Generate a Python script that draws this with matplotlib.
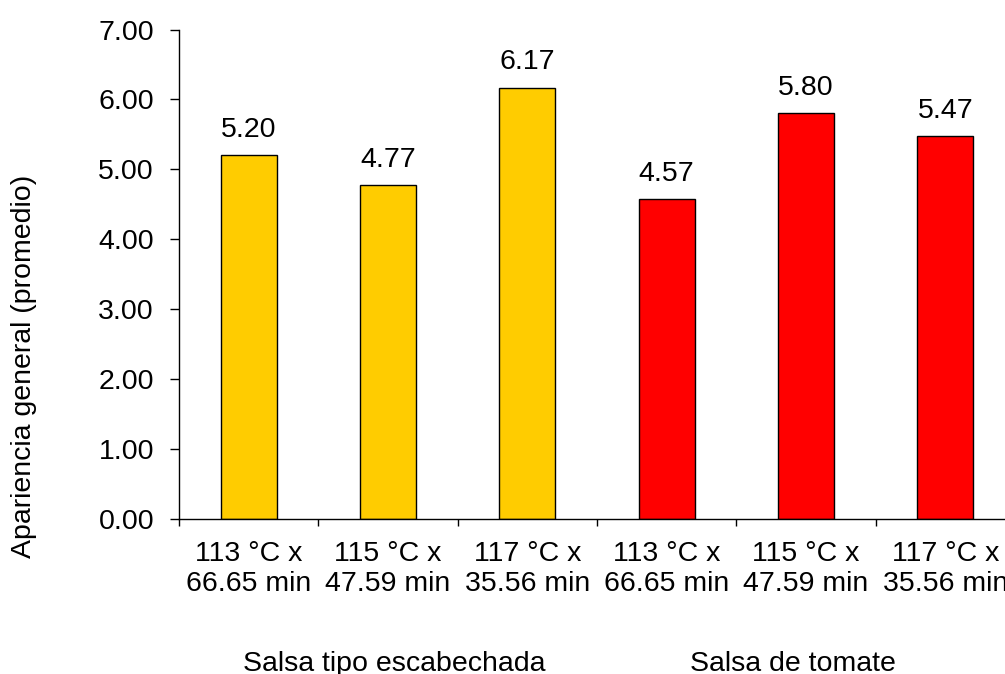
import matplotlib
matplotlib.use("Agg")
import matplotlib.pyplot as plt

plt.rcParams['font.family'] = ['Liberation Sans', 'DejaVu Sans']

# condiciones de esterilizacion y puntaje promedio de apariencia
categorias = ["113 °C x\n66.65 min", "115 °C x\n47.59 min", "117 °C x\n35.56 min",
              "113 °C x\n66.65 min", "115 °C x\n47.59 min", "117 °C x\n35.56 min"]
apariencia = [5.20, 4.77, 6.17, 4.57, 5.80, 5.47]
colores = ["#FFCC00", "#FFCC00", "#FFCC00", "#FF0000", "#FF0000", "#FF0000"]
grupos = ["Salsa tipo escabechada", "Salsa de tomate"]
yticks = [0, 1, 2, 3, 4, 5, 6, 7]

W, H = 1005, 674
fs = 20.5

fig = plt.figure(figsize=(W / 100, H / 100), dpi=100)
ax = fig.add_axes([179 / W, (H - 519) / H, 836 / W, (519 - 29.5) / H])

x = list(range(len(apariencia)))
ax.bar(x, apariencia, width=0.4, color=colores, edgecolor="black", linewidth=1.0, zorder=2)

for xi, v in zip(x, apariencia):
    ax.annotate(f"{v:.2f}", (xi, v), xytext=(0, 13), textcoords="offset points",
                ha="center", va="baseline", fontsize=fs)

ax.set_xlim(-0.5, len(apariencia) - 0.5)
ax.set_ylim(0, 7)
ax.set_yticks(yticks)
ax.set_yticklabels([f"{t:.2f}" for t in yticks], fontsize=fs)

# ticks del eje x en los limites entre categorias, etiquetas centradas
ax.set_xticks([i - 0.5 for i in range(len(apariencia) + 1)])
ax.set_xticklabels([])
ax.set_xticks(x, minor=True)
ax.set_xticklabels(categorias, minor=True, fontsize=fs, linespacing=1.2)
ax.tick_params(axis="x", which="major", direction="out", length=5, width=1.0)
ax.tick_params(axis="x", which="minor", length=0, pad=15.5)
ax.tick_params(axis="y", direction="out", length=6.5, width=1.0, pad=11.5)

for s in ["top", "right"]:
    ax.spines[s].set_visible(False)
for s in ["left", "bottom"]:
    ax.spines[s].set_linewidth(1.0)

fig.text(24 / W, 1 - 366 / H, "Apariencia general (promedio)", rotation=90,
         ha="center", va="center", fontsize=fs)
fig.text(394 / W, 1 - 671 / H, grupos[0], ha="center", va="baseline", fontsize=fs)
fig.text(793 / W, 1 - 671 / H, grupos[1], ha="center", va="baseline", fontsize=fs)

fig.savefig("out.png", dpi=100)
